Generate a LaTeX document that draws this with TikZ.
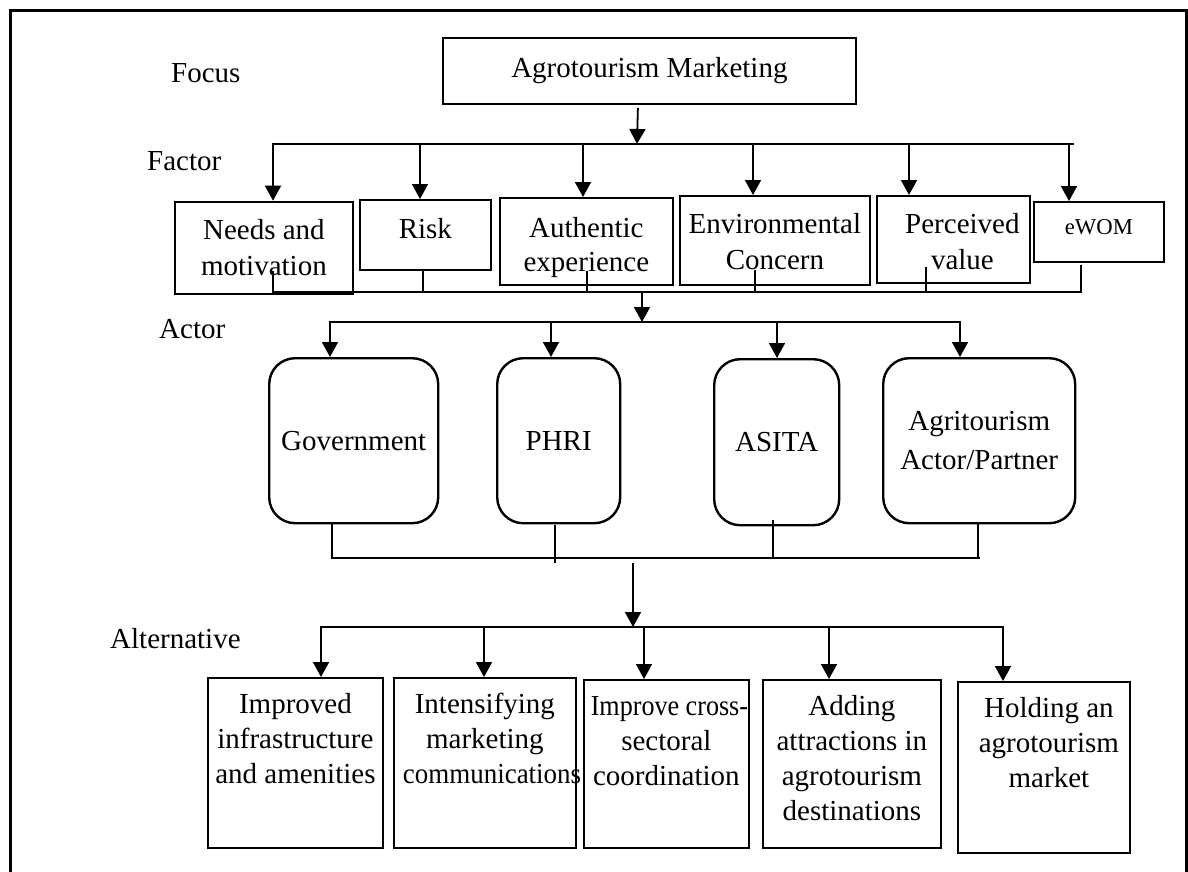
\documentclass[tikz,border=0pt]{standalone}
\usepackage{fontspec}
\usepackage{graphicx}
\setmainfont{Liberation Serif}
\usetikzlibrary{arrows.meta}
\newcommand\bt[6]{\parbox[c][#1][t]{#2}{\fontsize{#4}{#5}\selectfont\centering\rule{0pt}{#3}#6\par}}
\begin{document}
\begin{tikzpicture}[x=1pt,y=-1pt,
  font=\fontsize{29}{36}\selectfont,
  box/.style={draw, line width=1.8pt, inner sep=0pt, anchor=north west},
  rbox/.style={draw, line width=2.4pt, rounded corners=26pt, inner sep=0pt, anchor=north west, align=center},
  conn/.style={line width=1.8pt},
  bus/.style={line width=1.8pt, line cap=rect},
  arr/.style={line width=1.8pt, -{Triangle[length=15pt,width=16pt]}},
  lbl/.style={anchor=base west, inner sep=0pt},
  frame/.style={line width=2.7pt}
]
\useasboundingbox (0,0) rectangle (1188,872);
\draw[frame] (10.7,885) -- (10.7,10.7) -- (1186.8,10.7) -- (1186.8,885);

% level labels
\node[lbl] (lfocus) at (171,83) {Focus};
\node[lbl] (lfactor) at (147,170) {Factor};
\node[lbl] (lactor) at (159,338) {Actor};
\node[lbl] (lalt) at (110,648) {Alternative};

% focus
\node[box, minimum width=413pt, minimum height=66pt] (focus) at (442,37) {Agrotourism Marketing};

% factors
\node[box] (f1) at (174,200.7) {\bt{92.3pt}{178pt}{38.3pt}{29}{36}{Needs and\\motivation}};
\node[box] (f2) at (359,199) {\bt{70pt}{131pt}{39pt}{29}{36}{Risk}};
\node[box] (f3) at (499,197) {\bt{87pt}{173pt}{40pt}{29}{34}{Authentic\\experience}};
\node[box] (f4) at (679,195) {\bt{89pt}{190pt}{38pt}{29}{36}{Environmental\\Concern}};
\node[box] (f5) at (876,195) {\bt{87pt}{153pt}{38pt}{29}{36}{\hspace*{18pt}Perceived\\\hspace*{18pt}value}};
\node[box] (f6) at (1033,201) {\bt{60pt}{130pt}{33pt}{22.7}{28}{eWOM}};

% actors
\node[rbox, minimum width=169pt, minimum height=165pt] (a1) at (268,357) {Government};
\node[rbox, minimum width=123pt, minimum height=165pt] (a2) at (496,357) {PHRI};
\node[rbox, minimum width=125pt, minimum height=166pt] (a3) at (713,358) {ASITA};
\node[rbox, minimum width=192pt, minimum height=165pt, font=\fontsize{29}{39}\selectfont] (a4) at (882,357) {Agritourism\\Actor/Partner};

% alternatives
\node[box] (h1) at (207,677) {\bt{170pt}{175pt}{36pt}{29}{35}{Improved\\infrastructure\\and amenities}};
\node[box] (h2) at (393,677) {\bt{170pt}{182pt}{36pt}{29}{35}{Intensifying\\marketing\\\hspace*{9pt}\scalebox{0.93}[1]{communications}}};
\node[box] (h3) at (583,679) {\bt{168pt}{165pt}{36pt}{29}{35}{\hspace*{6pt}\scalebox{0.9}[1]{Improve cross-}\\sectoral\\coordination}};
\node[box] (h4) at (762,679) {\bt{168pt}{178pt}{36pt}{29}{35}{Adding\\attractions in\\agrotourism\\destinations}};
\node[box] (h5) at (957,681) {\bt{171pt}{172pt}{36pt}{29}{35}{\hspace*{10pt}Holding an\\\hspace*{10pt}agrotourism\\\hspace*{10pt}market}};

% focus -> factor bus
\coordinate (t0) at (637,144);
\draw[arr] ([xshift=-11.5pt,yshift=-3pt]focus.south) -- (t0);
\coordinate (fb1) at (273,144);
\coordinate (fb2) at (420,144);
\coordinate (fb3) at (583,144);
\coordinate (fb4) at (753,144);
\coordinate (fb5) at (909,144);
\coordinate (fb6) at (1069,144);
\coordinate (fbe) at (1073,144);
\draw[bus] (fb1) -- (fbe);
\foreach \i in {1,...,6} \draw[arr] (fb\i) -- (fb\i |- f\i.north);

% factor collector
\coordinate (cb) at (0,292);
\coordinate (c1) at (273,271);
\coordinate (c2) at (423,269);
\coordinate (c3) at (587,271);
\coordinate (c4) at (755,270);
\coordinate (c5) at (926,267);
\coordinate (c6) at (1081,265);
\draw[conn] (c1) -- (c1 |- cb) -- (c6 |- cb) -- (c6);
\foreach \i in {2,...,5} \draw[conn] (c\i) -- (c\i |- cb);

% -> actor bus
\coordinate (d1) at (642,292);
\coordinate (ab0) at (642,322);
\draw[arr] (d1) -- (ab0);
\coordinate (ab1) at (330,322);
\coordinate (ab2) at (551,322);
\coordinate (ab3) at (777,322);
\coordinate (ab4) at (960,322);
\draw[bus] (ab1) -- (ab4);
\foreach \i in {1,...,4} \draw[arr] (ab\i) -- (ab\i |- a\i.north);

% actor collector
\coordinate (eb) at (0,558);
\coordinate (e1) at (332,522);
\coordinate (e2s) at (555,525);
\coordinate (e2e) at (555,563);
\coordinate (e3) at (773,520);
\coordinate (e4) at (978,522);
\coordinate (ebe) at (980,558);
\draw[conn] (e1) -- (e1 |- eb) -- (ebe);
\draw[conn] (e2s) -- (e2e);
\draw[conn] (e3) -- (e3 |- eb);
\draw[conn] (e4) -- (e4 |- eb);

% -> alternative bus
\coordinate (g0) at (633,563);
\coordinate (g1) at (633,627);
\draw[arr] (g0) -- (g1);
\coordinate (hb1) at (321,627);
\coordinate (hb2) at (484,627);
\coordinate (hb3) at (644,627);
\coordinate (hb4) at (829,627);
\coordinate (hb5) at (1003,627);
\draw[bus] (hb1) -- (hb5);
\foreach \i in {1,...,5} \draw[arr] (hb\i) -- (hb\i |- h\i.north);
\end{tikzpicture}
\end{document}
